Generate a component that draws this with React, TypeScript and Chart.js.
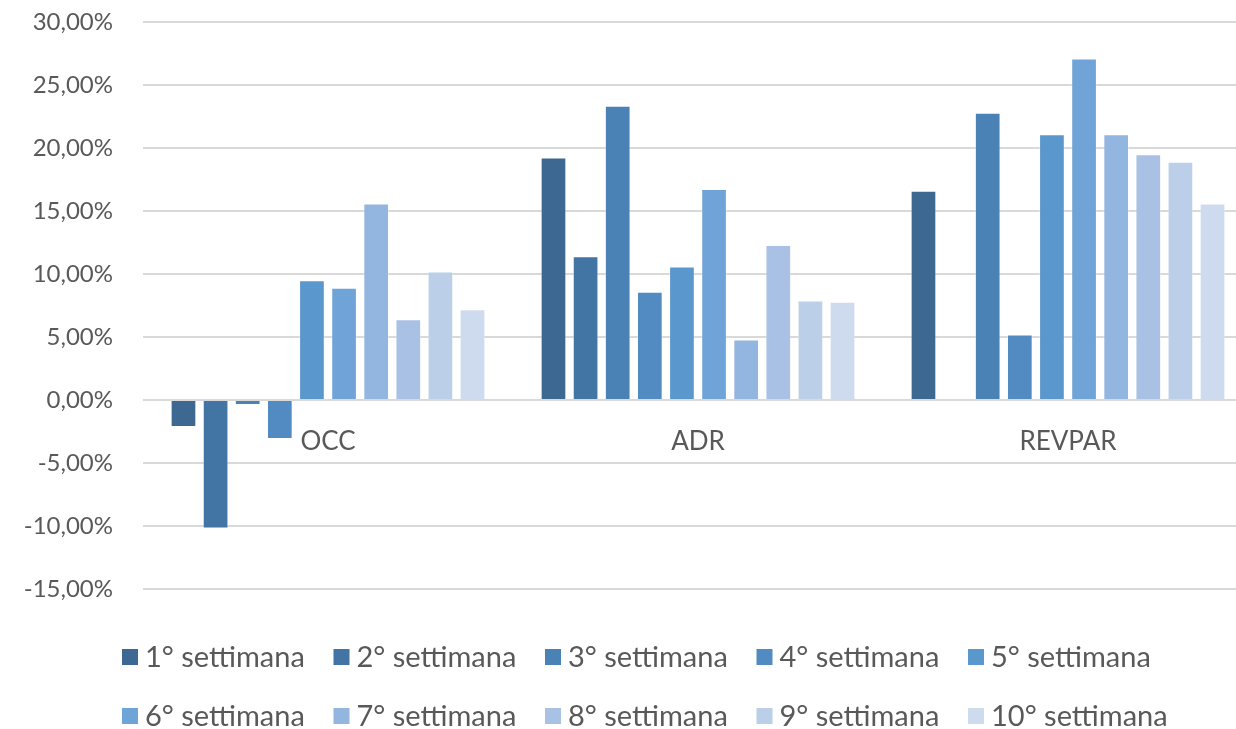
import { useEffect, useRef } from 'react';
import { Chart, registerables } from 'chart.js';

Chart.register(...registerables);

const categories = ['OCC', 'ADR', 'REVPAR'];
const seriesLabels = [
  '1° settimana', '2° settimana', '3° settimana', '4° settimana', '5° settimana',
  '6° settimana', '7° settimana', '8° settimana', '9° settimana', '10° settimana',
];
const seriesColors = [
  '#3C6891', '#4275A3', '#4A82B5', '#528BC1', '#5A97CD',
  '#70A3D7', '#92B6DF', '#A8C1E5', '#BCCFE8', '#CEDBEF',
];
const occValues = [-2.15, -10.2, -0.4, -3.1, 9.5, 8.9, 15.6, 6.4, 10.2, 7.2];
const adrValues = [19.25, 11.4, 23.35, 8.6, 10.6, 16.75, 4.8, 12.3, 7.9, 7.8];
const revparValues = [16.6, 0, 22.8, 5.2, 21.1, 27.1, 21.1, 19.5, 18.9, 15.6];
const yMin = -15;
const yMax = 30;
const yStep = 5;

const FONT = 'Lato, "Open Sans", sans-serif';
const TEXT_COLOR = '#595959';
const GRID_COLOR = '#D9D9D9';

const formatPct = (v: number) => v.toFixed(2).replace('.', ',') + '%';

const gridLegend = {
  id: 'gridLegend',
  afterDraw(chart: any) {
    const ctx = chart.ctx as CanvasRenderingContext2D;
    ctx.save();
    ctx.font = `29px ${FONT}`;
    ctx.textBaseline = 'middle';
    ctx.textAlign = 'left';
    chart.data.datasets.forEach((ds: any, i: number) => {
      const col = i % 5;
      const row = Math.floor(i / 5);
      const x = 122 + col * 211.5;
      const y = 657 + row * 59;
      ctx.fillStyle = ds.backgroundColor;
      ctx.fillRect(x, y - 8, 16, 16);
      ctx.fillStyle = TEXT_COLOR;
      ctx.fillText(ds.label, x + 23, y + 1);
    });
    ctx.restore();
  },
};

export default function App() {
  const ref = useRef<HTMLCanvasElement | null>(null);

  useEffect(() => {
    if (!ref.current) return;
    const datasets = seriesLabels.map((label, i) => ({
      label,
      data: [occValues[i], adrValues[i], revparValues[i]],
      backgroundColor: seriesColors[i],
      borderColor: 'rgba(255,255,255,0.35)',
      borderWidth: 1,
      categoryPercentage: 0.868,
      barPercentage: 0.8,
    }));
    const chart = new Chart(ref.current, {
      type: 'bar',
      data: { labels: categories, datasets },
      plugins: [gridLegend],
      options: {
        animation: false,
        responsive: false,
        layout: { padding: { top: 22, bottom: 140, right: 9, left: 0 } },
        plugins: { legend: { display: false }, tooltip: { enabled: false } },
        scales: {
          x: {
            position: { y: 0 } as any,
            grid: { display: false },
            border: { display: false },
            ticks: {
              color: TEXT_COLOR,
              font: { family: FONT, size: 26 },
              padding: 18,
            },
          },
          y: {
            min: yMin,
            max: yMax,
            ticks: {
              stepSize: yStep,
              color: TEXT_COLOR,
              font: { family: FONT, size: 24 },
              padding: 30,
              callback: (v: any) => formatPct(Number(v)),
            },
            grid: { color: GRID_COLOR, lineWidth: 2, drawTicks: false },
            border: { display: false },
            afterFit: (scale: any) => {
              scale.width = 143;
              scale.paddingTop = 0;
              scale.paddingBottom = 0;
            },
          },
        },
      },
    });
    return () => chart.destroy();
  }, []);

  return (
    <div style={{ position: 'fixed', left: 0, top: 0, width: 1236, height: 729, overflow: 'hidden', background: '#fff' }}>
      <canvas ref={ref} width={1262} height={729} style={{ display: 'block' }} />
    </div>
  );
}
